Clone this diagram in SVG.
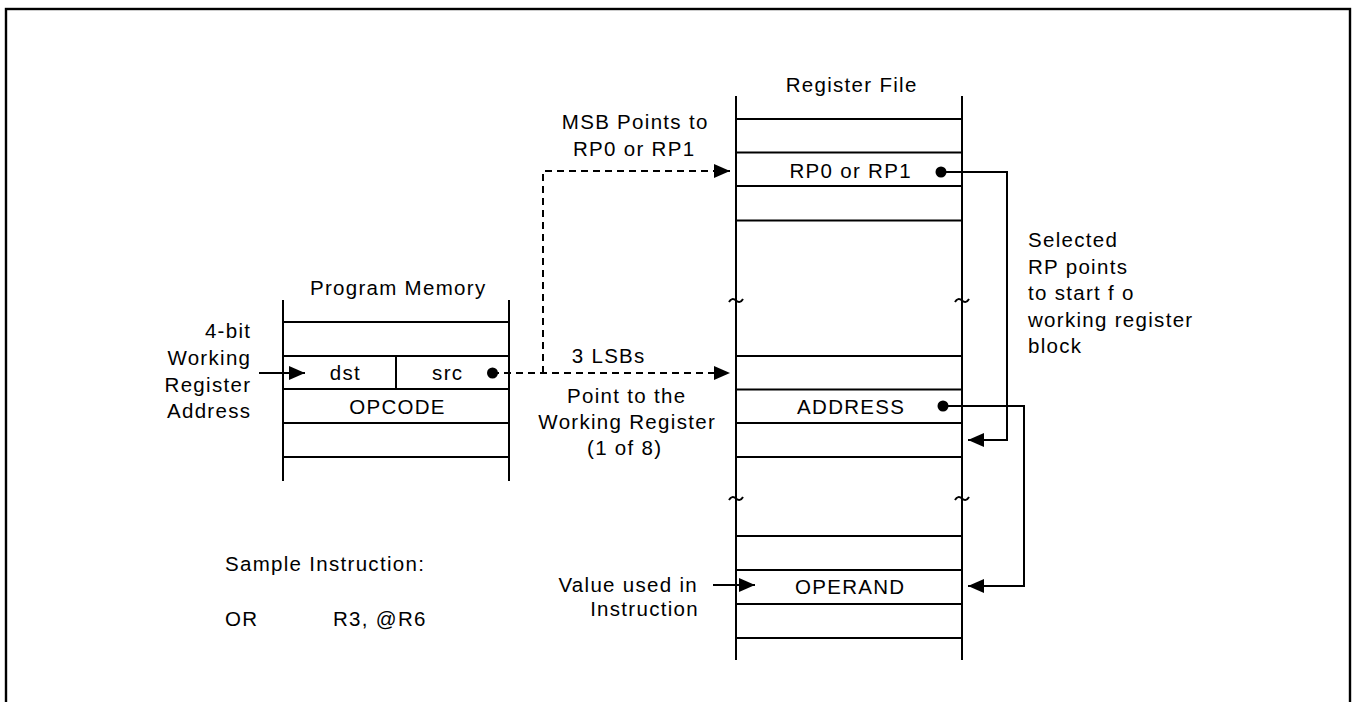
<svg xmlns="http://www.w3.org/2000/svg" width="1356" height="702" viewBox="0 0 1356 702">
<defs>
<style>
text{font-family:"Liberation Sans",Arial,sans-serif;font-size:20.5px;letter-spacing:1.3px;fill:#000}
.m{text-anchor:middle}
.e{text-anchor:end}
.ln{stroke:#000;stroke-width:2;fill:none}
.ds{stroke:#000;stroke-width:2;fill:none;stroke-dasharray:7 5}
.dot{fill:#000}
</style>
<marker id="ah" markerUnits="userSpaceOnUse" markerWidth="17" markerHeight="14" refX="16" refY="7" orient="auto">
<path d="M0,0 L16,7 L0,14 Z" fill="#000"/>
</marker>
</defs>
<rect x="0" y="0" width="1356" height="702" fill="#fff"/>
<rect x="6" y="9" width="1344" height="720" fill="none" stroke="#000" stroke-width="2.4"/>

<g id="program-memory">
<line class="ln" x1="283" y1="300" x2="283" y2="481"/>
<line class="ln" x1="509" y1="300" x2="509" y2="481"/>
<line class="ln" x1="283" y1="322" x2="509" y2="322"/>
<line class="ln" x1="283" y1="356" x2="509" y2="356"/>
<line class="ln" x1="283" y1="389" x2="509" y2="389"/>
<line class="ln" x1="283" y1="423" x2="509" y2="423"/>
<line class="ln" x1="283" y1="457" x2="509" y2="457"/>
<line class="ln" x1="396" y1="356" x2="396" y2="389"/>
<text class="m" x="398.2" y="295">Program Memory</text>
<text class="m" x="345.4" y="379.5">dst</text>
<text class="m" x="447.7" y="379.5">src</text>
<text class="m" x="397.5" y="413.5">OPCODE</text>
</g>

<g id="register-file">
<line class="ln" x1="736" y1="96" x2="736" y2="660"/>
<line class="ln" x1="962" y1="96" x2="962" y2="660"/>
<line class="ln" x1="736" y1="119" x2="962" y2="119"/>
<line class="ln" x1="736" y1="152.5" x2="962" y2="152.5"/>
<line class="ln" x1="736" y1="186" x2="962" y2="186"/>
<line class="ln" x1="736" y1="220.5" x2="962" y2="220.5"/>
<line class="ln" x1="736" y1="356" x2="962" y2="356"/>
<line class="ln" x1="736" y1="389.5" x2="962" y2="389.5"/>
<line class="ln" x1="736" y1="423" x2="962" y2="423"/>
<line class="ln" x1="736" y1="457" x2="962" y2="457"/>
<line class="ln" x1="736" y1="536" x2="962" y2="536"/>
<line class="ln" x1="736" y1="570" x2="962" y2="570"/>
<line class="ln" x1="736" y1="604" x2="962" y2="604"/>
<line class="ln" x1="736" y1="638" x2="962" y2="638"/>
<path class="ln" d="M729,302 q3,-5 7,-1.5 t7,-1.5"/>
<path class="ln" d="M955,302 q3,-5 7,-1.5 t7,-1.5"/>
<path class="ln" d="M729,500 q3,-5 7,-1.5 t7,-1.5"/>
<path class="ln" d="M955,500 q3,-5 7,-1.5 t7,-1.5"/>
<text class="m" x="851.7" y="92">Register File</text>
<text class="m" x="850.7" y="178">RP0 or RP1</text>
<text class="m" x="851.2" y="413.5">ADDRESS</text>
<text class="m" x="850.2" y="594">OPERAND</text>
</g>

<g id="labels">
<text class="e" x="251.3" y="338">4-bit</text>
<text class="e" x="251.3" y="365">Working</text>
<text class="e" x="251.3" y="391.5">Register</text>
<text class="e" x="251.3" y="418">Address</text>
<text class="m" x="635.2" y="129">MSB Points to</text>
<text class="m" x="634.2" y="156">RP0 or RP1</text>
<text class="m" x="608.7" y="363">3 LSBs</text>
<text class="m" x="626.7" y="403">Point to the</text>
<text class="m" x="627.2" y="429">Working Register</text>
<text class="m" x="624.7" y="455">(1 of 8)</text>
<text x="1028" y="247">Selected</text>
<text x="1028" y="273.5">RP points</text>
<text x="1028" y="300">to start f o</text>
<text x="1028" y="326.5">working register</text>
<text x="1028" y="353">block</text>
<text class="e" x="698" y="592">Value used in</text>
<text class="e" x="699" y="616">Instruction</text>
<text x="225" y="571">Sample Instruction:</text>
<text x="225" y="626">OR</text>
<text x="333" y="626">R3, @R6</text>
</g>

<g id="connectors">
<line class="ln" x1="259" y1="373" x2="305" y2="373" marker-end="url(#ah)"/>
<path class="ds" d="M492,373 L730,373" marker-end="url(#ah)"/>
<path class="ds" d="M543,373 L543,171 L730,171" marker-end="url(#ah)"/>
<circle class="dot" cx="492.5" cy="373" r="5.5"/>
<circle class="dot" cx="941" cy="172" r="5.5"/>
<path class="ln" d="M941,172 L1007,172 L1007,440 L968,440" marker-end="url(#ah)"/>
<circle class="dot" cx="943" cy="406" r="5.5"/>
<path class="ln" d="M943,406 L1024,406 L1024,586 L968,586" marker-end="url(#ah)"/>
<line class="ln" x1="713" y1="585" x2="755" y2="585" marker-end="url(#ah)"/>
</g>
</svg>
